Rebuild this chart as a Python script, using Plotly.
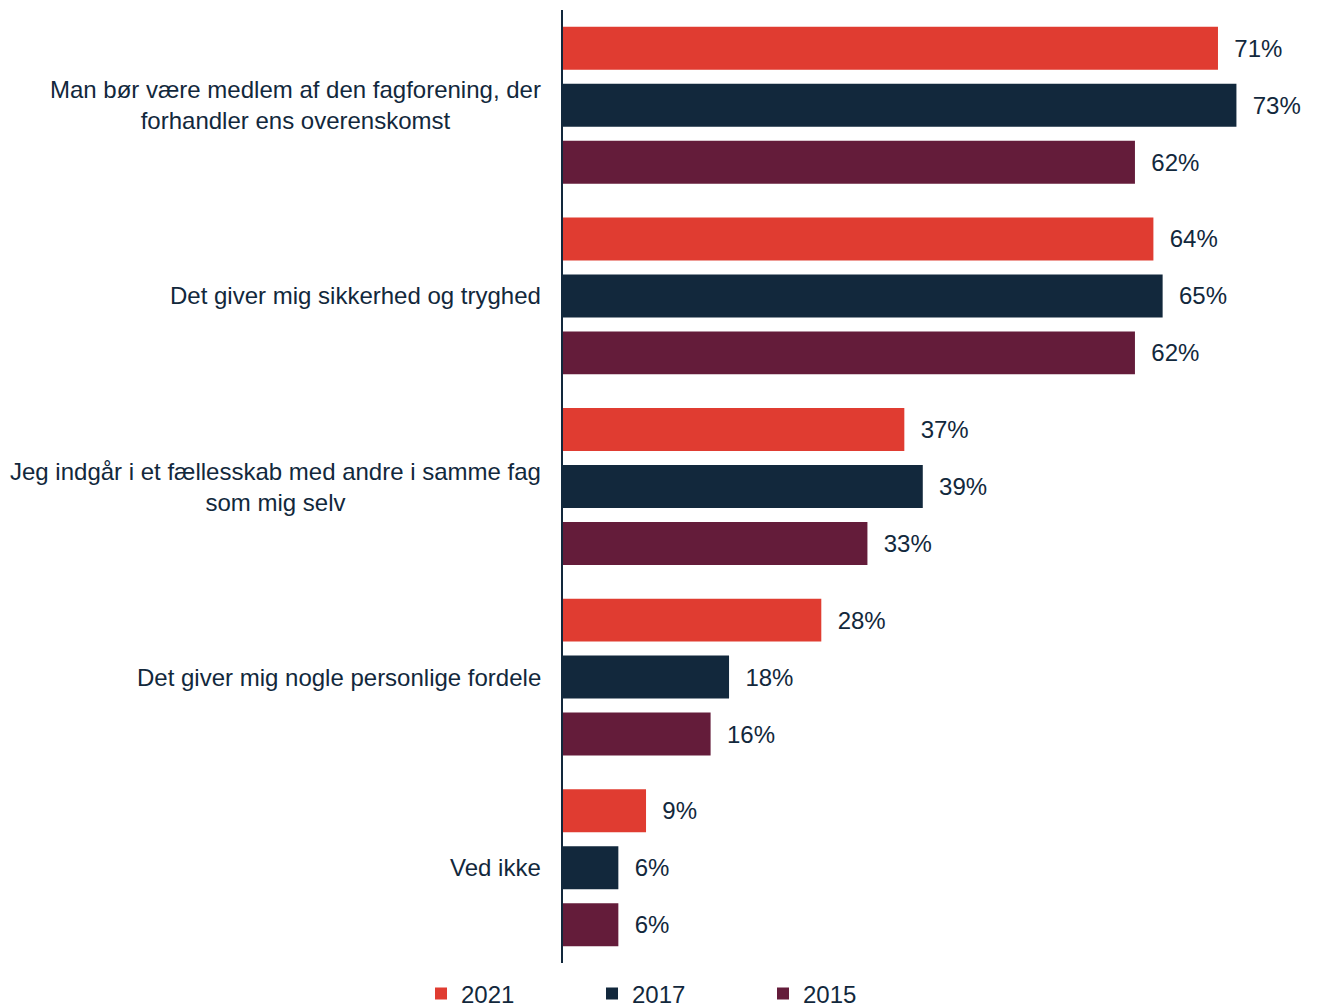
import plotly.graph_objects as go

# kategorier og andele (%)
categories = [
    "Man bør være medlem af den fagforening, der<br>forhandler ens overenskomst",
    "Det giver mig sikkerhed og tryghed",
    "Jeg indgår i et fællesskab med andre i samme fag<br>som mig selv",
    "Det giver mig nogle personlige fordele",
    "Ved ikke",
]
years = ["2021", "2017", "2015"]
values_2021 = [71, 64, 37, 28, 9]
values_2017 = [73, 65, 39, 18, 6]
values_2015 = [62, 62, 33, 16, 6]

colors = {"2021": "#E03C31", "2017": "#12283C", "2015": "#641C3A"}
text_color = "#12283C"
font_family = "Arial, Liberation Sans, sans-serif"
font_size = 24

series = {"2021": values_2021, "2017": values_2017, "2015": values_2015}

fig = go.Figure()
for year in years:
    vals = series[year]
    fig.add_trace(go.Bar(
        y=categories,
        x=vals,
        name=year,
        orientation="h",
        marker=dict(color=colors[year], line=dict(width=0)),
        text=["\u00a0\u00a0" + f"{v}%" for v in vals],
        textposition="outside",
        textfont=dict(size=font_size, color=text_color, family=font_family),
        cliponaxis=False,
    ))

# kategoritekster som annotationer, så flerlinjede tekster centreres
for cat in categories:
    fig.add_annotation(
        x=0, xref="paper", y=cat, yref="y",
        text=cat, showarrow=False,
        xanchor="right", align="center", xshift=-20,
        font=dict(size=font_size, color=text_color, family=font_family),
    )

fig.update_layout(
    width=1317,
    height=1006,
    barmode="group",
    bargap=0.103,
    bargroupgap=0.246,
    plot_bgcolor="white",
    paper_bgcolor="white",
    margin=dict(l=555, r=24, t=2, b=51, autoexpand=False),
    font=dict(family=font_family, color=text_color, size=font_size),
    showlegend=True,
    legend=dict(
        orientation="h",
        xref="container", x=0.3136, xanchor="left",
        yref="container", y=0.02, yanchor="middle",
        font=dict(size=font_size, color=text_color, family=font_family),
        entrywidth=126,
        entrywidthmode="pixels",
    ),
)
fig.update_xaxes(range=[0, 80], visible=False)
fig.update_yaxes(
    autorange="reversed",
    showticklabels=False,
    showline=True,
    linecolor=text_color,
    linewidth=1.5,
    ticks="",
    showgrid=False,
)

fig.write_html("out.html")
